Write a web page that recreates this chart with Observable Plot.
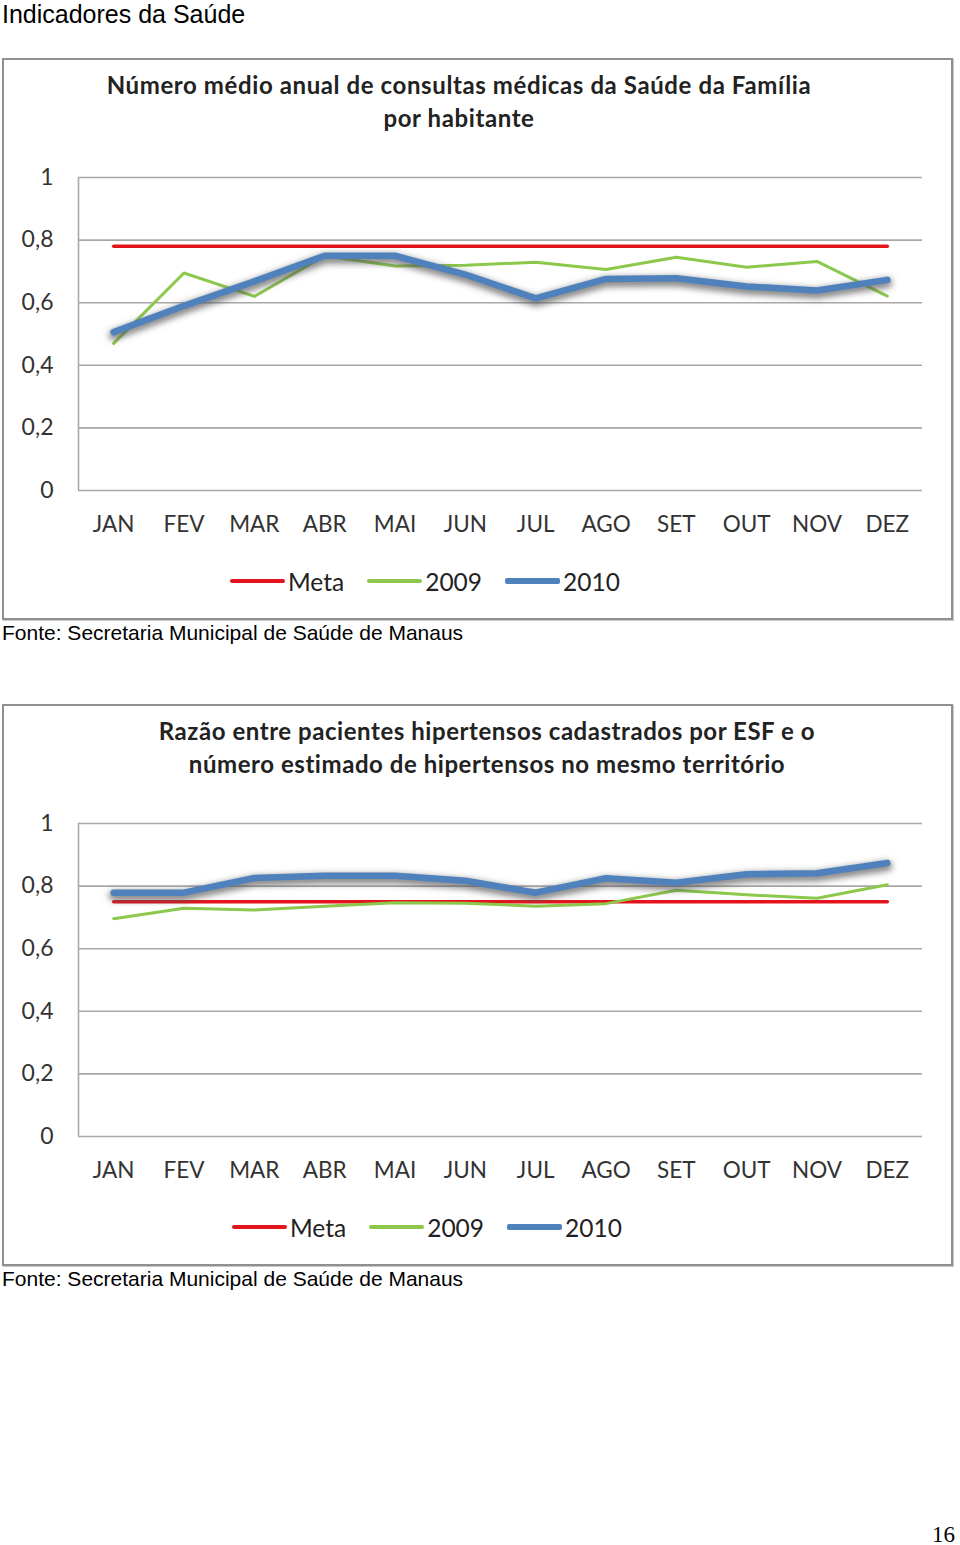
<!DOCTYPE html>
<html><head><meta charset="utf-8">
<script src="https://cdn.jsdelivr.net/npm/d3@7"></script>
<script src="https://cdn.jsdelivr.net/npm/@observablehq/plot@0.6"></script>
<style>
body{margin:0;background:#fff;width:960px;height:1545px;position:relative;overflow:hidden;font-family:"Liberation Sans",Arial,sans-serif;}
.pagetitle{position:absolute;left:2px;top:0px;font-size:25px;line-height:28px;color:#000;}
.box{position:absolute;left:2px;width:951px;height:562px;border:2px solid #8f8f8f;box-sizing:border-box;background:#fff;box-shadow:1px 1px 0 #c8c8c8;}
.ctitle{position:absolute;top:8px;font-family:Lato,"Open Sans",sans-serif;font-weight:bold;font-size:24px;line-height:33px;color:#222;text-align:center;white-space:nowrap;}
.plot{position:absolute;left:0;top:100px;}
.legend{position:absolute;top:506px;display:flex;align-items:center;font-family:Lato,"Open Sans",sans-serif;font-size:24.5px;color:#222;height:30px;}
.legend .sw{display:inline-block;width:55px;margin-right:3px;border-radius:2px;}
.legend .it{display:flex;align-items:center;margin-right:23px;}
.fonte{position:absolute;left:2px;font-size:21px;line-height:24px;color:#000;}
.pnum{position:absolute;left:932px;top:1522px;font-family:"Liberation Serif","Times New Roman",serif;font-size:23px;color:#000;}
</style></head>
<body>
<div class="pagetitle">Indicadores da Saúde</div>
<div class="box" id="box1" style="top:58px">
  <div class="ctitle" style="left:0;width:910px;letter-spacing:0.6px">Número médio anual de consultas médicas da Saúde da Família<br>por habitante</div>
  <div class="plot" id="plot1"></div>
  <div class="legend" id="leg1" style="left:226px"></div>
</div>
<div class="fonte" style="top:621px">Fonte: Secretaria Municipal de Saúde de Manaus</div>
<div class="box" id="box2" style="top:704px">
  <div class="ctitle" style="left:0;width:966px;letter-spacing:0.55px">Razão entre pacientes hipertensos cadastrados por ESF e o<br>número estimado de hipertensos no mesmo território</div>
  <div class="plot" id="plot2"></div>
  <div class="legend" id="leg2" style="left:228px"></div>
</div>
<div class="fonte" style="top:1267px">Fonte: Secretaria Municipal de Saúde de Manaus</div>
<div class="pnum">16</div>
<script>
const months = ["JAN","FEV","MAR","ABR","MAI","JUN","JUL","AGO","SET","OUT","NOV","DEZ"];
const yTicks = [0, 0.2, 0.4, 0.6, 0.8, 1];
const yTickLabels = ["0", "0,2", "0,4", "0,6", "0,8", "1"];
const seriesNames = ["Meta", "2009", "2010"];
const seriesColors = ["#e3141b", "#8cc84b", "#4f81bd"];
const seriesWidths = [3.5, 3, 6.5];

// Chart 1: Número médio anual de consultas médicas
const c1Meta = [0.78,0.78,0.78,0.78,0.78,0.78,0.78,0.78,0.78,0.78,0.78,0.78];
const c1Y2009 = [0.47,0.695,0.62,0.75,0.717,0.72,0.729,0.706,0.745,0.713,0.732,0.621];
const c1Y2010 = [0.506,0.59,0.668,0.75,0.75,0.69,0.614,0.676,0.678,0.652,0.639,0.673];

// Chart 2: Razão entre pacientes hipertensos
const c2Meta = [0.75,0.75,0.75,0.75,0.75,0.75,0.75,0.75,0.75,0.75,0.75,0.75];
const c2Y2009 = [0.696,0.729,0.724,0.736,0.747,0.745,0.736,0.744,0.787,0.772,0.761,0.804];
const c2Y2010 = [0.779,0.779,0.826,0.833,0.833,0.817,0.779,0.825,0.811,0.838,0.841,0.874];

const SHADOW = "#555555";

function makeChart(seriesArrays, id){
  const data = seriesArrays.map((arr, s) => arr.map((v, i) => ({i, v, s})));
  const marks = [
    Plot.gridY(yTicks, {stroke:"#a8a8a8", strokeOpacity:1, strokeWidth:1.6}),
    Plot.ruleX([-0.5], {y1:0, y2:1, stroke:"#a8a8a8", strokeWidth:1.6}),
    Plot.axisY(yTicks, {label:null, tickSize:0, tickPadding:25, tickFormat:(d)=>yTickLabels[yTicks.indexOf(d)], fontSize:23, fontFamily:"Lato, 'Open Sans', sans-serif", fill:"#333"}),
    Plot.axisX(months.map((m,i)=>i), {label:null, tickSize:0, tickPadding:26, tickFormat:i=>months[i], fontSize:22.5, fontFamily:"Lato, 'Open Sans', sans-serif", fill:"#333"})
  ];
  data.forEach((d, s) => {
    if (s === 2) {
      marks.push(Plot.line(d, {x:"i", y:"v", stroke:SHADOW, strokeOpacity:0.7, strokeWidth:10, dy:3, strokeLinejoin:"round", strokeLinecap:"round"}));
    }
    marks.push(Plot.line(d, {x:"i", y:"v", stroke:seriesColors[s], strokeWidth:seriesWidths[s], strokeLinejoin:"round", strokeLinecap:"round"}));
  });
  const svg = Plot.plot({
    width:947, height:380,
    marginLeft:74, marginRight:29, marginTop:17, marginBottom:50,
    x:{domain:[-0.5, 11.5], axis:null},
    y:{domain:[0,1], axis:null},
    style:{background:"transparent", overflow:"visible"},
    marks
  });
  const s = d3.select(svg);
  const defs = s.insert("defs", ":first-child");
  defs.append("filter").attr("id", "blur" + id)
    .attr("filterUnits", "userSpaceOnUse").attr("x", 0).attr("y", 0).attr("width", 947).attr("height", 380)
    .append("feGaussianBlur").attr("stdDeviation", 3);
  s.selectAll("g, path").filter(function(){ return this.getAttribute("stroke") === SHADOW; })
    .attr("filter", `url(#blur${id})`);
  return svg;
}

function makeLegend(el){
  seriesNames.forEach((n, s) => {
    const it = document.createElement("div");
    it.className = "it";
    const sw = document.createElement("span");
    sw.className = "sw";
    sw.style.height = (s===2?6:4) + "px";
    sw.style.background = seriesColors[s];
    const t = document.createElement("span");
    t.textContent = n;
    it.appendChild(sw); it.appendChild(t);
    el.appendChild(it);
  });
}

document.getElementById("plot1").appendChild(makeChart([c1Meta, c1Y2009, c1Y2010], 1));
document.getElementById("plot2").appendChild(makeChart([c2Meta, c2Y2009, c2Y2010], 2));
makeLegend(document.getElementById("leg1"));
makeLegend(document.getElementById("leg2"));
</script>
</body></html>
